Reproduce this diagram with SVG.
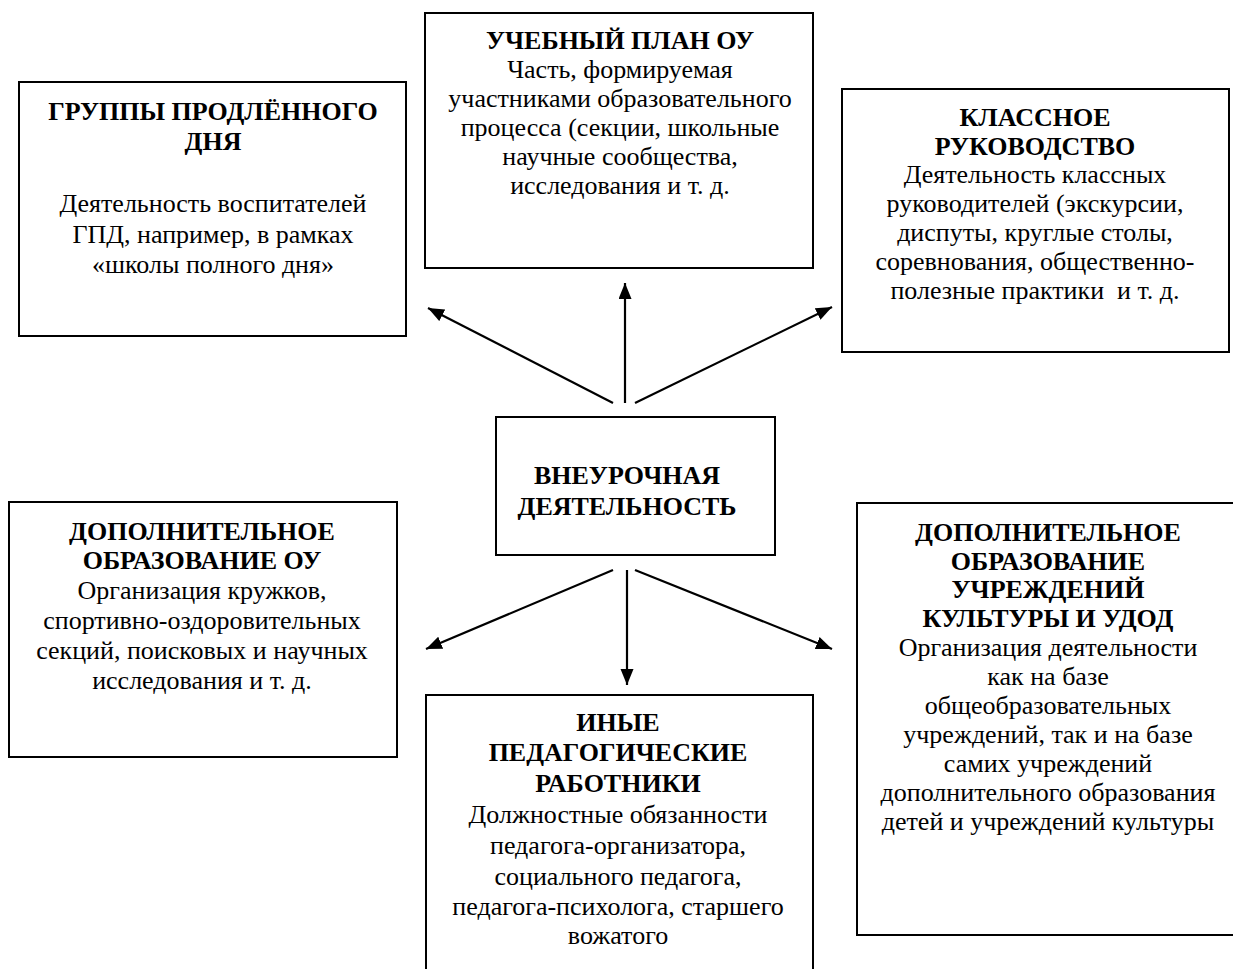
<svg xmlns="http://www.w3.org/2000/svg" width="1233" height="969" viewBox="0 0 1233 969">
<defs>
<style>
.box{fill:#fff;stroke:#000;stroke-width:2}
.t{font-family:"Liberation Serif","Times New Roman",serif;font-size:26px;fill:#000;text-anchor:middle}
.b{font-weight:bold}
.c{stroke:#000;stroke-width:2.2;fill:none;marker-end:url(#ah)}
</style>
<marker id="ah" markerUnits="userSpaceOnUse" markerWidth="18" markerHeight="14" refX="16" refY="6.5" orient="auto">
<path d="M0,0 L16,6.5 L0,13 z" fill="#000"/>
</marker>
</defs>
<rect width="1233" height="969" fill="#fff"/>
<g id="connectors">
<line class="c" x1="613" y1="403" x2="428" y2="308"/>
<line class="c" x1="625" y1="403" x2="625" y2="283"/>
<line class="c" x1="635" y1="403" x2="832" y2="307"/>
<line class="c" x1="613" y1="570" x2="426" y2="649"/>
<line class="c" x1="627" y1="570" x2="627" y2="685"/>
<line class="c" x1="635" y1="570" x2="832" y2="649"/>
</g>
<g id="gpd">
<rect class="box" x="19" y="82" width="387" height="254"/>
<text class="t b" x="213" y="120">ГРУППЫ ПРОДЛЁННОГО</text>
<text class="t b" x="213" y="150">ДНЯ</text>
<text class="t" x="213" y="212">Деятельность воспитателей</text>
<text class="t" x="213" y="243">ГПД, например, в рамках</text>
<text class="t" x="213" y="273">«школы полного дня»</text>
</g>
<g id="plan">
<rect class="box" x="425" y="13" width="388" height="255"/>
<text class="t b" x="620" y="49">УЧЕБНЫЙ ПЛАН ОУ</text>
<text class="t" x="620" y="78">Часть, формируемая</text>
<text class="t" x="620" y="107">участниками образовательного</text>
<text class="t" x="620" y="136">процесса (секции, школьные</text>
<text class="t" x="620" y="165">научные сообщества,</text>
<text class="t" x="620" y="194">исследования и т. д.</text>
</g>
<g id="klass">
<rect class="box" x="842" y="89" width="387" height="263"/>
<text class="t b" x="1035" y="126">КЛАССНОЕ</text>
<text class="t b" x="1035" y="155">РУКОВОДСТВО</text>
<text class="t" x="1035" y="183">Деятельность классных</text>
<text class="t" x="1035" y="212">руководителей (экскурсии,</text>
<text class="t" x="1035" y="241">диспуты, круглые столы,</text>
<text class="t" x="1035" y="270">соревнования, общественно-</text>
<text class="t" x="1035" y="299" style="white-space:pre">полезные практики  и т. д.</text>
</g>
<g id="center">
<rect class="box" x="496" y="417" width="279" height="138"/>
<text class="t b" x="627" y="484">ВНЕУРОЧНАЯ</text>
<text class="t b" x="627" y="515">ДЕЯТЕЛЬНОСТЬ</text>
</g>
<g id="dop-ou">
<rect class="box" x="9" y="502" width="388" height="255"/>
<text class="t b" x="202" y="540">ДОПОЛНИТЕЛЬНОЕ</text>
<text class="t b" x="202" y="569">ОБРАЗОВАНИЕ ОУ</text>
<text class="t" x="202" y="599">Организация кружков,</text>
<text class="t" x="202" y="629">спортивно-оздоровительных</text>
<text class="t" x="202" y="659">секций, поисковых и научных</text>
<text class="t" x="202" y="689">исследования и т. д.</text>
</g>
<g id="inye">
<rect class="box" x="426" y="695" width="387" height="290"/>
<text class="t b" x="618" y="731">ИНЫЕ</text>
<text class="t b" x="618" y="761">ПЕДАГОГИЧЕСКИЕ</text>
<text class="t b" x="618" y="792">РАБОТНИКИ</text>
<text class="t" x="618" y="823">Должностные обязанности</text>
<text class="t" x="618" y="854">педагога-организатора,</text>
<text class="t" x="618" y="885">социального педагога,</text>
<text class="t" x="618" y="915">педагога-психолога, старшего</text>
<text class="t" x="618" y="944">вожатого</text>
</g>
<g id="dop-kult">
<rect class="box" x="857" y="503" width="382" height="432"/>
<text class="t b" x="1048" y="541">ДОПОЛНИТЕЛЬНОЕ</text>
<text class="t b" x="1048" y="570">ОБРАЗОВАНИЕ</text>
<text class="t b" x="1048" y="598">УЧРЕЖДЕНИЙ</text>
<text class="t b" x="1048" y="627">КУЛЬТУРЫ И УДОД</text>
<text class="t" x="1048" y="656">Организация деятельности</text>
<text class="t" x="1048" y="685">как на базе</text>
<text class="t" x="1048" y="714">общеобразовательных</text>
<text class="t" x="1048" y="743">учреждений, так и на базе</text>
<text class="t" x="1048" y="772">самих учреждений</text>
<text class="t" x="1048" y="801">дополнительного образования</text>
<text class="t" x="1048" y="830">детей и учреждений культуры</text>
</g>
</svg>
